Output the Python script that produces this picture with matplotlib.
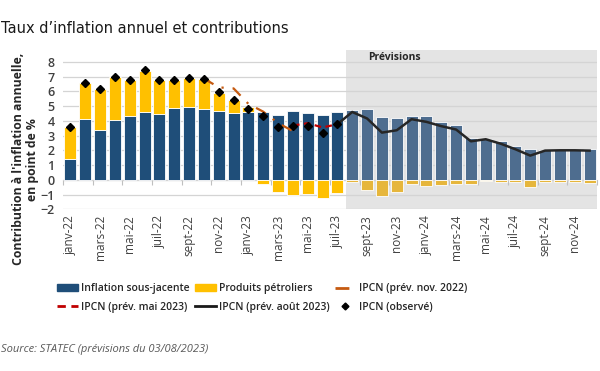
import numpy as np
import matplotlib
matplotlib.use('Agg')
import matplotlib.pyplot as plt
from matplotlib.patches import Patch
from matplotlib.lines import Line2D

plt.rcParams['font.family'] = ['Open Sans', 'DejaVu Sans']

# mois (janv-22 .. déc-24)
mois = ['janv', 'févr', 'mars', 'avr', 'mai', 'juin', 'juil', 'août', 'sept', 'oct', 'nov', 'déc']
labels = [f'{m}-{a}' for a in ('22', '23', '24') for m in mois]

# contributions (points de %)
sous_jacente = [1.38, 4.11, 3.36, 4.05, 4.32, 4.59, 4.48, 4.89, 4.93, 4.80, 4.66, 4.50,
                4.59, 4.57, 4.39, 4.66, 4.52, 4.41, 4.61, 4.73, 4.82, 4.27, 4.16, 4.34,
                4.30, 3.93, 3.70, 2.86, 2.77, 2.66, 2.27, 2.09, 2.02, 2.02, 2.11, 2.11]
petroliers = [2.17, 2.46, 2.78, 2.90, 2.45, 2.82, 2.29, 1.88, 1.96, 2.06, 1.25, 0.91,
              0.32, -0.27, -0.86, -1.00, -0.95, -1.25, -0.90, -0.16, -0.68, -1.11, -0.80, -0.27,
              -0.39, -0.34, -0.27, -0.30, -0.07, -0.18, -0.18, -0.50, -0.16, -0.18, -0.18, -0.20]

# IPCN observé (janv-22 .. juil-23)
observe = [3.55, 6.57, 6.14, 6.95, 6.77, 7.43, 6.77, 6.77, 6.89, 6.86, 5.93, 5.39,
           4.82, 4.32, 3.59, 3.68, 3.64, 3.18, 3.77]

# prévisions
prev_nov22 = [6.87, 6.27, 6.20, 5.15, 4.62, 3.85, 3.30]          # oct-22 .. avr-23
prev_mai23 = [3.68, 3.84, 3.55, 3.77]                              # avr-23 .. juil-23
prev_aout23 = [3.77, 4.60, 4.16, 3.20, 3.36, 4.11, 3.93, 3.64, 3.41,
               2.61, 2.75, 2.45, 2.07, 1.64, 1.98, 2.00, 2.00, 1.98]  # juil-23 .. déc-24

debut_prev = 19  # août-23

bleu, jaune = '#1F4E79', '#FFC000'
bleu_p, jaune_p = '#4E6D8F', '#E6B63C'

x = np.arange(len(labels))
sj = np.array(sous_jacente)
pp = np.array(petroliers)

fig = plt.figure(figsize=(6, 3.71), dpi=100)
ax = fig.add_axes([0.105, 0.436, 0.89, 0.429])

ax.axvspan(debut_prev - 0.42, len(labels) - 0.5, color='#E4E4E4', zorder=0, lw=0)
ax.set_axisbelow(True)
ax.yaxis.grid(True, color='#D4D4D4', lw=0.9, zorder=0.5)

c_sj = [bleu if i < debut_prev else bleu_p for i in x]
c_pp = [jaune if i < debut_prev else jaune_p for i in x]
ax.bar(x, sj, width=0.82, color=c_sj, edgecolor='white', lw=0.6, zorder=2)
ax.bar(x, pp, width=0.82, bottom=np.where(pp > 0, sj, 0), color=c_pp,
       edgecolor='white', lw=0.6, zorder=2)

ax.plot(x[9:16], prev_nov22, color='#C55A11', lw=1.6, ls=(0, (5, 4, 1, 4)), zorder=3)
ax.plot(x[15:19], prev_mai23, color='#C00000', lw=1.6, ls=(0, (3, 2)), zorder=3)
ax.plot(x[18:], prev_aout23, color='#262626', lw=1.8, zorder=4)
ax.plot(x[:len(observe)], observe, ls='none', marker='D', ms=4.5, color='black', zorder=5)

ax.text(debut_prev + 1.1, 8.3, 'Prévisions', fontsize=7.5, fontweight='bold',
        color='#262626', va='center')

ax.set_xlim(-0.5, len(labels) - 0.5)
ax.set_ylim(-2, 8.8)
ax.set_yticks(range(-2, 9))
ax.tick_params(axis='y', length=0, labelsize=9, labelcolor='#404040', pad=6)
for t in ax.get_yticklabels():
    t.set_fontweight('semibold')
ax.set_xticks(x[::2])
ax.set_xticklabels(labels[::2], rotation=90, fontsize=8.5, color='#404040')
ax.tick_params(axis='x', length=0, pad=4)
for s in ax.spines.values():
    s.set_visible(False)

# axe horizontal à zéro avec petites graduations
zero = ax.secondary_xaxis(2 / 10.8)
zero.set_xticks(np.arange(-0.5, len(labels), 2))
zero.tick_params(axis='x', direction='out', length=3.5, color='#BFBFBF', labelbottom=False)
zero.spines['bottom'].set_color('#BFBFBF')

fig.text(0.042, 0.571, "Contribution à l'inflation annuelle,\nen point de %", fontsize=8.8,
         fontweight='bold', color='#262626', rotation=90, ha='center', va='center',
         linespacing=1.1, multialignment='center')

fig.text(0.002, 0.91, 'Taux d\u2019inflation annuel et contributions',
         family='DejaVu Sans', fontsize=10.5, color='#1a1a1a')

handles = [Patch(color=bleu), Line2D([], [], color='#C00000', lw=2, ls=(0, (3, 2))),
           Patch(color=jaune), Line2D([], [], color='#1a1a1a', lw=2),
           Line2D([], [], color='#C55A11', lw=2, ls=(0, (5, 4, 1, 4))),
           Line2D([], [], ls='none', marker='D', ms=3.5, color='black')]
names = ['Inflation sous-jacente', 'IPCN (prév. mai 2023)', 'Produits pétroliers',
         'IPCN (prév. août 2023)', 'IPCN (prév. nov. 2022)', 'IPCN (observé)']
leg = fig.legend(handles, names, ncol=3, frameon=False, loc='upper left',
                 bbox_to_anchor=(0.08, 0.262), fontsize=7.5, handlelength=2.0,
                 handletextpad=0.3, columnspacing=0.5, labelspacing=0.75)
for t in leg.get_texts():
    t.set_fontweight('semibold')
    t.set_color('#262626')

fig.text(0.002, 0.05, 'Source: STATEC (prévisions du 03/08/2023)', fontsize=8,
         style='italic', color='#595959')

fig.savefig('out.png', dpi=100)
